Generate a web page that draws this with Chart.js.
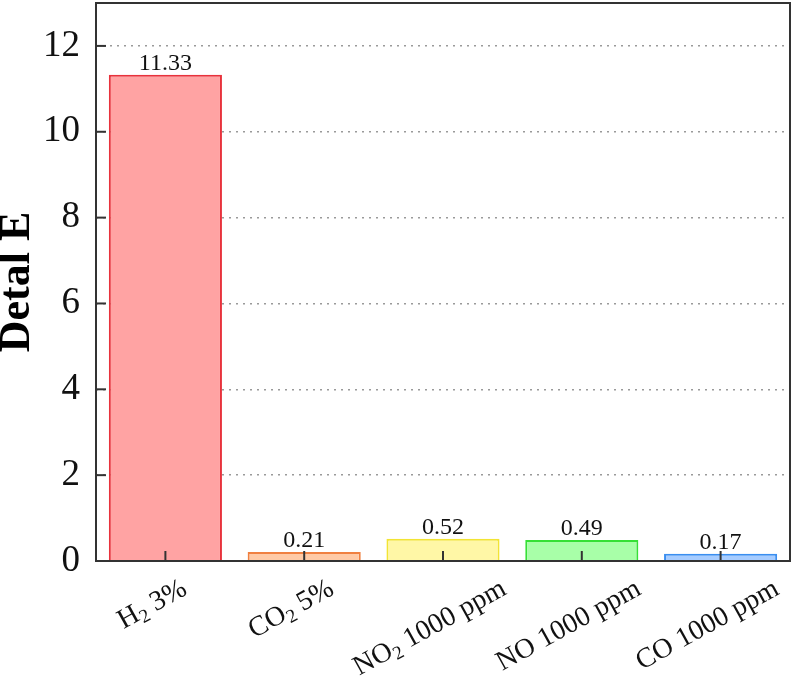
<!DOCTYPE html>
<html>
<head>
<meta charset="utf-8">
<script src="https://cdn.jsdelivr.net/npm/chart.js@4.4.1/dist/chart.umd.min.js"></script>
<style>
  html, body { margin: 0; padding: 0; background: #fff; }
  #wrap { width: 800px; height: 684px; }
</style>
</head>
<body>
<div id="wrap"><canvas id="deltaChart"></canvas></div>
<script>
// data
const categories = ["H₂ 3%", "CO₂ 5%", "NO₂ 1000 ppm", "NO 1000 ppm", "CO 1000 ppm"];
const deltaE = [11.33, 0.21, 0.52, 0.49, 0.17];
const yTicks = [0, 2, 4, 6, 8, 10, 12];
const fillColors = ["#ffa3a3", "#ffcaa6", "#fff7a6", "#a8ffa8", "#a6ccff"];
const edgeColors = ["#e8323c", "#f08040", "#f2e434", "#36e036", "#3a8ef0"];

const serif = "'Liberation Serif', 'Times New Roman', serif";
Chart.defaults.font.family = serif;
Chart.defaults.color = "#111";

// frame + inward tick marks
const framePlugin = {
  id: "frame",
  afterDraw(chart) {
    const { ctx, chartArea: a } = chart;
    const xs = chart.scales.x, ys = chart.scales.y;
    ctx.save();
    ctx.strokeStyle = "#333";
    ctx.lineWidth = 2;
    ctx.strokeRect(a.left, a.top, a.right - a.left, a.bottom - a.top);
    ys.ticks.forEach((t, i) => {
      const y = ys.getPixelForTick(i);
      ctx.beginPath(); ctx.moveTo(a.left, y); ctx.lineTo(a.left + 10, y); ctx.stroke();
    });
    xs.ticks.forEach((t, i) => {
      const x = xs.getPixelForTick(i);
      ctx.beginPath(); ctx.moveTo(x, a.bottom); ctx.lineTo(x, a.bottom - 10); ctx.stroke();
    });
    ctx.restore();
  }
};

// value text above bars
const valuePlugin = {
  id: "values",
  afterDatasetsDraw(chart) {
    const { ctx } = chart;
    const meta = chart.getDatasetMeta(0);
    ctx.save();
    ctx.font = "24px " + serif;
    ctx.fillStyle = "#111";
    ctx.textAlign = "center";
    ctx.textBaseline = "alphabetic";
    meta.data.forEach((bar, i) => {
      ctx.fillText(deltaE[i].toFixed(2), bar.x, bar.y - 5);
    });
    ctx.restore();
  }
};

// rotated category labels with a real subscript
const labelPlugin = {
  id: "catLabels",
  afterDraw(chart) {
    const { ctx, chartArea: a } = chart;
    const xs = chart.scales.x;
    const ang = 29 * Math.PI / 180;
    const big = "28px " + serif, small = "19px " + serif;
    ctx.save();
    ctx.fillStyle = "#111";
    ctx.textBaseline = "middle";
    ctx.textAlign = "left";
    categories.forEach((lab, i) => {
      const parts = [];
      for (const ch of lab) {
        if (ch === "₂") parts.push({ t: "2", sub: true });
        else parts.push({ t: ch, sub: false });
      }
      let w = 0;
      parts.forEach(p => { ctx.font = p.sub ? small : big; p.w = ctx.measureText(p.t).width; w += p.w; });
      const cx = xs.getPixelForTick(i) - 13;
      const cy = a.bottom + 26 + (w / 2) * Math.sin(ang);
      ctx.save();
      ctx.translate(cx, cy);
      ctx.rotate(-ang);
      let x = -w / 2;
      parts.forEach(p => {
        ctx.font = p.sub ? small : big;
        ctx.fillText(p.t, x, p.sub ? 7 : 0);
        x += p.w;
      });
      ctx.restore();
    });
    ctx.restore();
  }
};

new Chart(document.getElementById("deltaChart"), {
  type: "bar",
  data: {
    labels: categories,
    datasets: [{
      data: deltaE,
      backgroundColor: fillColors,
      borderColor: edgeColors,
      borderWidth: 2,
      barPercentage: 0.815,
      categoryPercentage: 1
    }]
  },
  options: {
    responsive: true,
    maintainAspectRatio: false,
    animation: false,
    layout: { padding: { left: 0, top: 3, right: 10, bottom: 0 } },
    plugins: { legend: { display: false }, tooltip: { enabled: false } },
    scales: {
      x: {
        grid: { display: false, drawTicks: false },
        border: { display: false },
        ticks: { display: false },
        afterFit(s) { s.height = 123; s.paddingLeft = 0; s.paddingRight = 0; }
      },
      y: {
        min: 0,
        max: 13,
        afterBuildTicks(s) { s.ticks = yTicks.map(v => ({ value: v })); },
        afterFit(s) { s.width = 96; s.paddingTop = 0; s.paddingBottom = 0; },
        border: { display: false, dash: [2, 5] },
        grid: {
          drawTicks: false,
          color: c => (c.tick && c.tick.value === 0) ? "rgba(0,0,0,0)" : "#9a9a9a",
          lineWidth: 1.5
        },
        ticks: {
          padding: 16,
          font: { size: 37 },
          color: "#111"
        },
        title: {
          display: true,
          text: "Detal E",
          font: { size: 44, weight: "bold", lineHeight: 0.82 },
          color: "#000",
          padding: 0
        }
      }
    }
  },
  plugins: [framePlugin, valuePlugin, labelPlugin]
});
</script>
</body>
</html>
